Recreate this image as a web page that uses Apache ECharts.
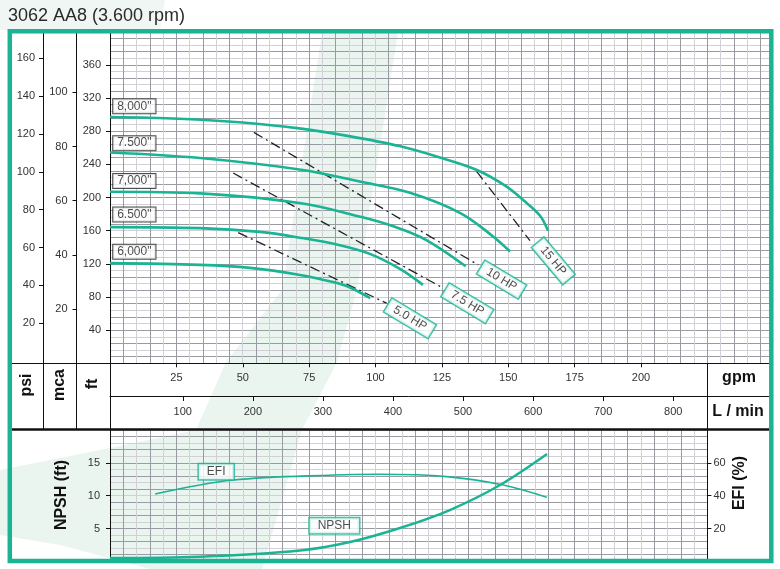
<!DOCTYPE html>
<html><head><meta charset="utf-8">
<script src="https://cdn.jsdelivr.net/npm/echarts@6/dist/echarts.min.js"></script>
<style>html,body{margin:0;padding:0;background:#fff}#c{width:780px;height:569px}</style>
</head><body><div id="c"></div>
<script>
// ---------- data ----------
const TITLE = '3062 AA8 (3.600 rpm)';
const diameterNames = ['8,000"', '7.500"', '7,000"', '6.500"', '6,000"'];
const diameterLabelPos = [[1.2, 310], [1.2, 265.5], [1.2, 220], [1.2, 179.5], [1.2, 134.5]];
// head curves: [gpm, ft]
const curve8000 = [[0,297],[26,295],[50,290.5],[72,283],[90,274],[109,262],[124,248.5],[138,233.5],[149,214],[156,196],[162,178],[165,160]];
const curve7500 = [[0,254.3],[34,247.6],[72,233.5],[94,219.3],[113,205.7],[132,181.2],[144.3,153],[150.7,134.8]];
const curve7000 = [[0,207],[34,205],[72,193],[94,177],[107,165],[119,149],[134,117]];
const curve6500 = [[0,164.3],[34,163],[56.5,158.5],[71.6,151.5],[86.6,142.5],[97.9,132],[109.2,113.9],[117.9,94.6]];
const curve6000 = [[0,120.8],[34,118.7],[52.7,115.1],[71.6,106.6],[84,98],[90.4,91.5],[98,78.5]];
// power lines: [gpm, ft]
const hp50 = [[48.3,157.7],[104.2,72.5]];
const hp75 = [[46.4,229.5],[124.9,91.8]];
const hp10 = [[54.2,278.5],[138.7,118.7]];
const hp15 = [[138.1,231.4],[158.2,148]];
const hpNames = ['5.0 HP', '7.5 HP', '10 HP', '15 HP'];
const hpLabelPos = [[113,54.3],[134.6,72.5],[147.5,101],[167,123.5]];
const hpLabelAngle = [-31, -31, -31, -50];
// lower chart
const efiCurve = [[17,41],[46.4,49.5],[84.1,52.6],[101.7,53],[126.8,51.6],[148.1,46.5],[164.5,39]];   // %
const npshCurve = [[0,0.5],[33.9,0.7],[71.6,1.65],[90.4,2.94],[109.2,5.07],[128,7.81],[146.9,11.62],[164.6,16.34]]; // ft
const efiLabelPos = [40, 13.65];
const npshLabelPos = [84.5, 5.42];
// tick labels
const ftTicks = [40,80,120,160,200,240,280,320,360];
const mcaTicks = [20,40,60,80,100];
const psiTicks = [20,40,60,80,100,120,140,160];
const gpmTicks = [25,50,75,100,125,150,175,200];
const lminTicks = [100,200,300,400,500,600,700,800];
const npshTicks = [5,10,15];
const efiTicks = [20,40,60];

// ---------- style ----------
const TEAL = '#1ab394';
const FONT = '"Liberation Sans", Arial, sans-serif';
const GRID_COLORS = ['#d0d0d6', '#9a9aa3'];
const TXT = '#333';

const chart = echarts.init(document.getElementById('c'), null, {renderer: 'canvas'});

function labelAxisY(grid, min, max, vals, offset, pos, margin) {
  return {
    type: 'value', gridIndex: grid, min: min, max: max, position: pos || 'left', offset: offset || 0,
    axisLine: {show: true, lineStyle: {color: '#111', width: 1}},
    axisTick: {show: true, length: 4, customValues: vals, lineStyle: {color: '#111'}},
    axisLabel: {show: true, customValues: vals, margin: margin, fontSize: 11, color: TXT, fontFamily: FONT},
    splitLine: {show: false}
  };
}
function splitY(grid, min, max, interval) {
  return {
    type: 'value', gridIndex: grid, min: min, max: max, interval: interval,
    axisLine: {show: false}, axisTick: {show: false}, axisLabel: {show: false},
    splitLine: {show: true, lineStyle: {color: GRID_COLORS, width: 1}}
  };
}

const series = [];
[curve8000, curve7500, curve7000, curve6500, curve6000].forEach((d, i) => {
  series.push({type: 'line', name: diameterNames[i], xAxisIndex: 0, yAxisIndex: 0, data: d,
    smooth: 0.35, showSymbol: false, silent: true, z: 5,
    lineStyle: {color: TEAL, width: 2.6}});
});
[hp50, hp75, hp10, hp15].forEach((d, i) => {
  series.push({type: 'line', name: hpNames[i], xAxisIndex: 0, yAxisIndex: 0, data: d,
    showSymbol: false, silent: true, z: 4,
    lineStyle: {color: '#222', width: 1.3, type: [10, 4, 2, 4]}});
});
series.push({type: 'scatter', xAxisIndex: 0, yAxisIndex: 0, symbolSize: 0, silent: true, z: 10,
  data: diameterLabelPos.map((p, i) => ({name: diameterNames[i], value: p})),
  label: {show: true, position: 'right', distance: 0, formatter: p => p.name,
    fontSize: 12, fontFamily: FONT, color: '#222', backgroundColor: '#fff',
    borderColor: '#222', borderWidth: 1, padding: [1, 4, 0, 4], lineHeight: 13}});
series.push({type: 'scatter', xAxisIndex: 0, yAxisIndex: 0, symbolSize: 0, silent: true, z: 10,
  data: hpLabelPos.map((p, i) => ({name: hpNames[i], value: p, label: {rotate: hpLabelAngle[i]}})),
  label: {show: true, position: 'inside', formatter: p => p.name,
    fontSize: 12, fontFamily: FONT, color: '#222', backgroundColor: '#fff',
    borderColor: TEAL, borderWidth: 1.5, padding: [2, 7, 1, 7]}});
series.push({type: 'line', name: 'EFI', xAxisIndex: 3, yAxisIndex: 8, data: efiCurve,
  smooth: 0.35, showSymbol: false, silent: true, z: 5,
  lineStyle: {color: TEAL, width: 1.6}});
series.push({type: 'line', name: 'NPSH', xAxisIndex: 3, yAxisIndex: 6, data: npshCurve,
  smooth: 0.35, showSymbol: false, silent: true, z: 5,
  lineStyle: {color: TEAL, width: 2.4}});
series.push({type: 'scatter', xAxisIndex: 3, yAxisIndex: 6, symbolSize: 0, silent: true, z: 10,
  data: [{name: 'EFI', value: efiLabelPos}, {name: 'NPSH', value: npshLabelPos}],
  label: {show: true, position: 'inside', formatter: p => p.name,
    fontSize: 12, fontFamily: FONT, color: '#222', backgroundColor: '#fff',
    borderColor: TEAL, borderWidth: 1.5, padding: [2, 8, 1, 8]}});

const line = (x1, y1, x2, y2, w) => ({type: 'line', z: 60, silent: true,
  shape: {x1, y1, x2, y2}, style: {stroke: '#111', lineWidth: w || 1}});
const vtext = (x, y, t, rot) => ({type: 'text', x, y, rotation: rot || 0, z: 60, silent: true,
  style: {text: t, align: 'center', verticalAlign: 'middle', font: 'bold 16px ' + FONT, fill: '#111'}});
const MINT = '#eaf5f0';

const option = {
  backgroundColor: '#ffffff',
  animation: false,
  grid: [
    {left: 110, top: 30, width: 661, height: 333.3},      // head chart
    {left: 110, top: 363.3, width: 597.4, height: 33},    // gpm row
    {left: 110, top: 396, width: 597.4, height: 33},      // L/min row
    {left: 110, top: 430, width: 597.4, height: 131.3}    // NPSH / EFI chart
  ],
  xAxis: [
    {type: 'value', gridIndex: 0, min: 0, max: 249, interval: 5,
      axisLine: {show: true, onZero: false, lineStyle: {color: '#111'}}, axisTick: {show: false}, axisLabel: {show: false},
      splitLine: {show: true, lineStyle: {color: GRID_COLORS, width: 1}}},
    {type: 'value', gridIndex: 1, min: 0, max: 225, position: 'top',
      axisLine: {show: true, onZero: false, lineStyle: {color: '#111'}},
      axisTick: {show: true, inside: true, length: 4, customValues: gpmTicks, lineStyle: {color: '#111'}},
      axisLabel: {show: true, inside: true, customValues: gpmTicks, margin: 9, fontSize: 11, color: TXT, fontFamily: FONT},
      splitLine: {show: false}},
    {type: 'value', gridIndex: 2, min: -3.85, max: 848.8, position: 'top',
      axisLine: {show: true, onZero: false, lineStyle: {color: '#111'}},
      axisTick: {show: true, inside: true, length: 5, customValues: lminTicks, lineStyle: {color: '#111'}},
      axisLabel: {show: true, inside: true, customValues: lminTicks, margin: 10, fontSize: 11, color: TXT, fontFamily: FONT},
      splitLine: {show: false}},
    {type: 'value', gridIndex: 3, min: 0, max: 225, interval: 5,
      axisLine: {show: false}, axisTick: {show: false}, axisLabel: {show: false},
      splitLine: {show: true, lineStyle: {color: GRID_COLORS, width: 1}}}
  ],
  yAxis: [
    labelAxisY(0, 0, 402, ftTicks, 0, 'left', 9),        // 0 ft
    splitY(0, 0, 402, 8),                                 // 1 ft grid
    labelAxisY(0, 0, 123, mcaTicks, 33.5, 'left', 9),     // 2 mca
    labelAxisY(0, -1.1, 174.9, psiTicks, 67, 'left', 8),  // 3 psi
    {type: 'value', gridIndex: 1, show: false},           // 4
    {type: 'value', gridIndex: 2, show: false},           // 5
    labelAxisY(3, 0, 20, npshTicks, 0, 'left', 10),       // 6 NPSH
    splitY(3, 0, 20, 1),                                  // 7 NPSH grid
    labelAxisY(3, 0, 80, efiTicks, 0, 'right', 6)         // 8 EFI
  ],
  series: series,
  graphic: [
    // soft background decoration
    {type: 'polygon', z: -10, silent: true, shape: {points: [[0,0],[165,0],[160,30],[0,30]]}, style: {fill: '#f0f6f3'}},
    {type: 'polygon', z: -10, silent: true, shape: {points: [[322,33],[398,33],[357,290],[337,362],[302,430],[262,569],[150,569],[60,545],[0,535],[0,470],[100,450],[196,430],[226,362],[282,290]]}, style: {fill: MINT}},
    // table lines
    line(12, 363.5, 110, 363.5),
    line(707, 396.5, 770, 396.5),
    line(12, 429.5, 770, 429.5, 2.5),
    line(43.5, 363, 43.5, 429),
    line(76.5, 363, 76.5, 429),
    line(110.5, 363, 110.5, 430),
    line(707.5, 363, 707.5, 430),
    // frame
    {type: 'rect', z: 100, silent: true, shape: {x: 9.8, y: 31.3, width: 761.5, height: 529.7},
      style: {fill: null, stroke: TEAL, lineWidth: 4.5}},
    // texts
    {type: 'text', x: 8, y: 16, z: 60, silent: true,
      style: {text: TITLE, align: 'left', verticalAlign: 'middle', font: '18px ' + FONT, fill: '#2a2a2a'}},
    vtext(27, 385, 'psi', Math.PI / 2),
    vtext(60, 385, 'mca', Math.PI / 2),
    vtext(93, 384, 'ft', Math.PI / 2),
    vtext(739, 378, 'gpm'),
    vtext(738, 412, 'L / min'),
    vtext(62, 495, 'NPSH (ft)', Math.PI / 2),
    vtext(740, 483, 'EFI (%)', Math.PI / 2)
  ]
};
chart.setOption(option);
</script>
</body></html>
